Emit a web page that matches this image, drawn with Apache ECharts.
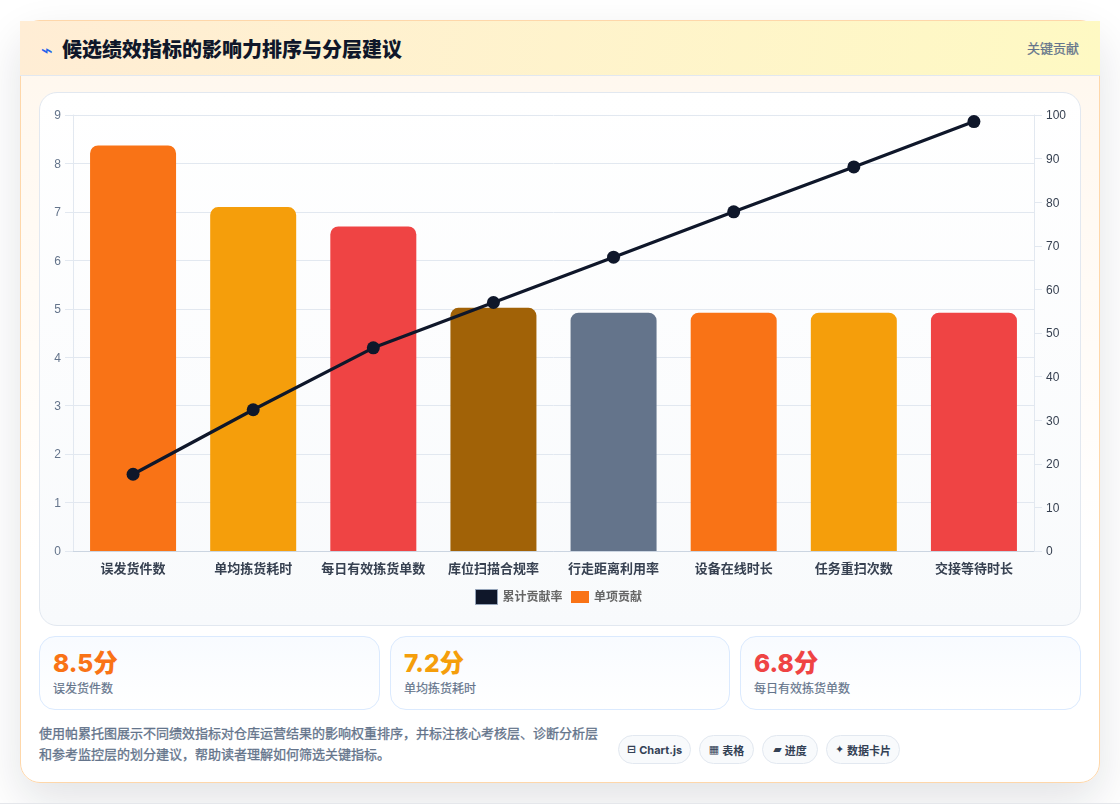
<!DOCTYPE html>
<html lang="zh-CN">
<head>
<meta charset="utf-8">
<title>候选绩效指标的影响力排序与分层建议</title>
<script src="https://cdn.jsdelivr.net/npm/echarts@6/dist/echarts.min.js"></script>
<style>
  * { box-sizing: border-box; margin: 0; padding: 0; }
  html, body { width: 1120px; height: 804px; overflow: hidden; background: #fff; }
  body { font-family: Inter, "Noto Sans CJK SC", sans-serif; position: relative; border-bottom: 1px solid #e5e7eb; }
  .card {
    position: absolute; left: 20px; top: 20px; width: 1080px; height: 763px;
    border: 1px solid #fed7aa; border-radius: 20px;
    background: linear-gradient(180deg, #fff7ed 0%, #ffffff 70%);
    box-shadow: 0 18px 45px rgba(15, 23, 42, .12);
  }
  .head {
    position: absolute; left: -1px; top: 0; width: 1080px; height: 55px;
    background: linear-gradient(100deg, #ffedd5, #fef9c3 100%);
    border-bottom: 1px solid #e2e8f0;
  }
  .bolt { position: absolute; left: 21px; top: 16px; font-size: 20px; line-height: 27px; color: #2563eb; font-family: "DejaVu Sans"; }
  .title { position: absolute; left: 42px; top: 14px; font-size: 20px; line-height: 30px; font-weight: 800; color: #0f172a; }
  .tag { position: absolute; right: 21px; top: 17px; font-size: 13px; line-height: 20px; font-weight: 400; -webkit-text-stroke: .25px #64748b; color: #64748b; }
  .panel {
    position: absolute; left: 18px; top: 71px; width: 1042px; height: 534px;
    border: 1px solid #e2e8f0; border-radius: 18px;
    background: linear-gradient(180deg, #ffffff, #f8fafc);
  }
  #chart { position: absolute; left: 0; top: 0; width: 1040px; height: 532px; }
  .stat {
    position: absolute; top: 615px; height: 74px; width: 341px;
    border: 1px solid #dbeafe; border-radius: 16px;
    background: linear-gradient(180deg, #f8fbff, #ffffff);
  }
  .stat b { position: absolute; left: 13px; top: 8px; font-size: 24.5px; line-height: 36px; font-weight: 800; }
  .stat span { position: absolute; left: 13px; top: 43px; font-size: 12px; line-height: 18px; font-weight: 400; -webkit-text-stroke: .2px #64748b; color: #64748b; }
  .note { position: absolute; left: 18px; top: 702px; width: 570px; font-size: 13px; line-height: 21px; font-weight: 400; -webkit-text-stroke: .3px #64748b; color: #64748b; }
  .chips { position: absolute; left: 597px; top: 714px; display: flex; gap: 8px; }
  .chip {
    height: 29px; display: flex; align-items: center; justify-content: center;
    border: 1px solid #e2e8f0; border-radius: 15px; background: #f8fafc;
    font-size: 11px; font-weight: 700; color: #334155; white-space: nowrap;
  }
  .chip i { font-style: normal; font-family: "DejaVu Sans"; margin-right: 3px; }
</style>
</head>
<body>
<div class="card">
  <div class="head">
    <div class="bolt">⌁</div>
    <div class="title">候选绩效指标的影响力排序与分层建议</div>
    <div class="tag">关键贡献</div>
  </div>
  <div class="panel"><div id="chart"></div></div>
  <div class="stat" style="left:18px"><b style="color:#f97316">8.5分</b><span>误发货件数</span></div>
  <div class="stat" style="left:369px;width:340px"><b style="color:#f59e0b">7.2分</b><span>单均拣货耗时</span></div>
  <div class="stat" style="left:719px"><b style="color:#ef4444">6.8分</b><span>每日有效拣货单数</span></div>
  <div class="note">使用帕累托图展示不同绩效指标对仓库运营结果的影响权重排序，并标注核心考核层、诊断分析层和参考监控层的划分建议，帮助读者理解如何筛选关键指标。</div>
  <div class="chips">
    <div class="chip" style="width:73px"><i>⊟</i>Chart.js</div>
    <div class="chip" style="width:55px"><i>▦</i>表格</div>
    <div class="chip" style="width:56px"><i>▰</i>进度</div>
    <div class="chip" style="width:74px"><i>✦</i>数据卡片</div>
  </div>
</div>
<script>
// 指标名称与两组数值
const categories = ['误发货件数', '单均拣货耗时', '每日有效拣货单数', '库位扫描合规率', '行走距离利用率', '设备在线时长', '任务重扫次数', '交接等待时长'];
const contribution = [8.37, 7.1, 6.7, 5.02, 4.92, 4.92, 4.92, 4.92];
const cumulative = [17.6, 32.4, 46.6, 57, 67.4, 77.8, 88.1, 98.5];
const barColors = ['#f97316', '#f59e0b', '#ef4444', '#a16207', '#64748b', '#f97316', '#f59e0b', '#ef4444'];
const leftTicks = { min: 0, max: 9, interval: 1 };
const rightTicks = { min: 0, max: 100, interval: 10 };

const chart = echarts.init(document.getElementById('chart'));
const tickFont = 'Liberation Sans';
const cjkFont = 'Inter, "Noto Sans CJK SC"';
// 刻度文字整体下移一点，与网格线对齐
const tickRich = color => ({ t: { color, fontSize: 12, fontFamily: tickFont, padding: [2, 0, 0, 0] } });
chart.setOption({
  animation: false,
  textStyle: { fontFamily: cjkFont },
  grid: { left: 33, right: 46, top: 22, bottom: 74 },
  legend: [
    { data: [{ name: '累计贡献率', icon: 'rect', itemStyle: { color: '#0f172a', borderColor: '#94a3b8', borderWidth: 1 } }],
      left: 430, top: 491, itemWidth: 22, itemHeight: 15, itemGap: 4,
      textStyle: { color: '#666', fontSize: 12, fontWeight: 600, fontFamily: cjkFont } },
    { data: [{ name: '单项贡献', icon: 'rect', itemStyle: { color: '#f97316' } }],
      left: 526, top: 493, itemWidth: 18, itemHeight: 12, itemGap: 4,
      textStyle: { color: '#666', fontSize: 12, fontWeight: 600, fontFamily: cjkFont } }
  ],
  xAxis: {
    type: 'category', data: categories,
    axisLine: { lineStyle: { color: '#cbd5e1' } },
    axisTick: { show: false },
    axisLabel: { color: '#374151', fontSize: 13, fontWeight: 600, fontFamily: cjkFont, margin: 12, interval: 0 }
  },
  yAxis: [
    { type: 'value', ...leftTicks,
      axisLine: { show: true, lineStyle: { color: '#e2e8f0' } },
      axisTick: { show: true, length: 8, lineStyle: { color: '#e2e8f0' } },
      axisLabel: { margin: 12, formatter: '{t|{value}}', rich: tickRich('#64748b') },
      splitLine: { lineStyle: { color: '#e2e8f0' } } },
    { type: 'value', ...rightTicks, position: 'right',
      axisLine: { show: true, lineStyle: { color: '#e2e8f0' } },
      axisTick: { show: true, length: 8, lineStyle: { color: '#e2e8f0' } },
      axisLabel: { margin: 12, formatter: '{t|{value}}', rich: tickRich('#374151') },
      splitLine: { show: false } }
  ],
  series: [
    { name: '单项贡献', type: 'bar', yAxisIndex: 0, barWidth: 86, z: 2,
      data: contribution.map((v, i) => ({ value: v, itemStyle: { color: barColors[i], borderRadius: [8, 8, 0, 0] } })) },
    { name: '累计贡献率', type: 'line', yAxisIndex: 1, data: cumulative, z: 5,
      symbol: 'circle', symbolSize: 13, itemStyle: { color: '#0f172a' },
      lineStyle: { color: '#0f172a', width: 3.2 } }
  ]
});
</script>
</body>
</html>
